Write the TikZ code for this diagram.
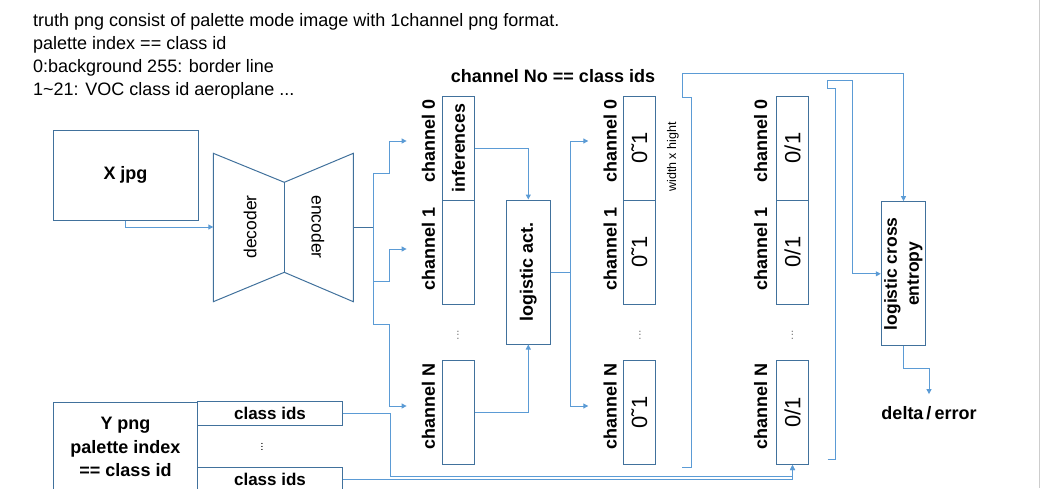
\documentclass[tikz,border=0pt]{standalone}
\usepackage{fontspec}
\setmainfont{Liberation Sans}
\usetikzlibrary{arrows.meta, calc}
\definecolor{boxblue}{RGB}{65,113,156}
\definecolor{flowblue}{RGB}{91,155,213}
\definecolor{pagegray}{RGB}{205,205,205}
\tikzset{
  box/.style={draw=boxblue, line width=1pt, inner sep=0pt},
  cell/.style={box, minimum width=32pt, minimum height=104pt},
  flow/.style={draw=flowblue, line width=1pt},
  tip/.style={-{Triangle[length=5pt, width=5pt]}},
  chlabel/.style={rotate=90, inner sep=0pt, text height=28pt, text depth=0pt,
    anchor=south, font=\bfseries\fontsize{18}{18}\selectfont},
  vdots/.style={rotate=90, text=gray, font=\fontsize{12}{12}\selectfont},
}

\begin{document}
\begin{tikzpicture}[x=1pt, y=-1pt]%
  \useasboundingbox (0,0) rectangle (1041,488);
  \draw[pagegray, line width=1pt] (1039.5,0) -- (1039.5,488);

  \node[anchor=north west, align=left, inner sep=0pt, font=\fontsize{18}{23}\selectfont]
    (note) at (33,13.6) {truth png consist of palette mode image with 1channel png format.\\
    palette index == class id\\
    0:background 255: border line\\
    1\textasciitilde 21: VOC class id aeroplane ...};
  \node[font=\bfseries\fontsize{18}{18}\selectfont] (title) at (553,76) {channel No == class ids};

  % input and network
  \node[box, minimum width=145pt, minimum height=90pt, font=\bfseries\fontsize{18}{18}\selectfont]
    (xjpg) at (125.5,175) {X jpg};
  \draw[box] (213.3,153.3) -- (284.3,182.3) -- (353.3,153.3) -- (353.3,301.7)
    -- (284.3,272.3) -- (213.3,301.7) -- cycle;
  \draw[box] (284.3,182.3) -- (284.3,272.3);
  \coordinate (decin) at (213.3,227);
  \coordinate (encout) at (353.3,227);
  \node[rotate=90, font=\fontsize{17.5}{17.5}\selectfont] (dec) at (250,227) {decoder};
  \node[rotate=-90, font=\fontsize{17.5}{17.5}\selectfont] (enc) at (318,227) {encoder};

  % channel columns
  \foreach \n/\y/\ly/\t in {0/148/141/inferences, 1/252/249/, N/412.5/406/} {
    \node[chlabel] (il\n) at (435,\ly) {channel \n};
    \node[cell, font=\bfseries\fontsize{17.8}{17.8}\selectfont] (inf\n) at (458.5,\y) {\rotatebox{90}{\t}};
    \node[chlabel] (pl\n) at (616.7,\ly) {channel \n};
    \node[cell, font=\fontsize{22}{22}\selectfont] (prob\n) at (639.3,\y) {\rotatebox{90}{0˜1}};
    \node[chlabel] (tl\n) at (767.3,\ly) {channel \n};
    \node[cell, font=\fontsize{22}{22}\selectfont] (truth\n) at (792.5,\y) {\rotatebox{90}{0/1}};
  }
  \node[vdots] (infdots) at (458,335) {...};
  \node[vdots] (probdots) at (640,335) {...};
  \node[vdots] (truthdots) at (792.5,335) {...};
  \node[rotate=90, font=\fontsize{12.5}{12.5}\selectfont] (wh) at (673,157) {width x hight};

  \node[box, minimum width=43.5pt, minimum height=144pt, font=\bfseries\fontsize{18}{18}\selectfont]
    (act) at (528.3,272) {\rotatebox{90}{logistic act.}};
  \node[box, minimum width=44.4pt, minimum height=144.3pt, font=\bfseries\fontsize{17.5}{22}\selectfont]
    (lce) at (903.5,273.8) {\rotatebox{90}{\begin{tabular}{@{}c@{}}logistic cross\\entropy\end{tabular}}};
  \node[font=\bfseries\fontsize{18}{18}\selectfont, inner ysep=12pt] (delta) at (929,413) {delta\thinspace/\thinspace error};

  % truth image
  \node[box, minimum width=144.4pt, minimum height=90pt, align=center,
    font=\bfseries\fontsize{18}{23.5}\selectfont] (ypng) at (125.5,447) {Y png\\palette index\\== class id};
  \node[box, minimum width=144.6pt, minimum height=23.6pt, font=\bfseries\fontsize{17}{17}\selectfont]
    (cls1) at (270,413.5) {class ids};
  \node[box, minimum width=144.6pt, minimum height=24pt, font=\bfseries\fontsize{17}{17}\selectfont]
    (cls2) at (270,479.3) {class ids};
  \node[rotate=90, font=\fontsize{11}{11}\selectfont] (ydots) at (262,447) {...};

  % connectors
  \draw[flow, tip] (xjpg.south) |- (decin);
  \coordinate (split1) at (373,227);
  \draw[box] (encout) -- (split1);
  \draw[flow, tip] (split1) |- ++(16,-54) |- (il0.north);
  \draw[flow, tip] (split1) |- ++(16,54.7) |- (il1.north);
  \draw[flow, tip] (split1) |- ++(16,97) |- (ilN.north);
  \draw[flow, tip] (inf0.east) -| (act.north);
  \draw[flow, tip] (infN.east) -| (act.south);
  \coordinate (split2) at (570,272);
  \draw[flow] (act.east) -- (split2);
  \draw[flow, tip] (split2) |- (pl0.north);
  \draw[flow, tip] (split2) |- (plN.north);

  \coordinate (probend) at (682,467);
  \draw[flow, tip] (probend) -- ++(9,0) -- ++(0,-370) -- ++(-9,0) -- ++(0,-24) -| (lce.north);
  \coordinate (truthend) at (827.7,459);
  \draw[flow, tip] (truthend) -- ++(8,0) -- ++(0,-371) -- ++(-8,0) -- ++(0,-7.3) -- ++(25,0) |- (lce.west);
  \draw[flow, tip] (lce.south) -- ++(0,22.3) -| (delta.north);

  \draw[flow, tip] (cls1.east) -- ++(47.7,0) -- ++(0,62.7) -| (truthN.south);
  \draw[flow, tip] (cls2.east) -| (truthN.south);
\end{tikzpicture}
\end{document}
